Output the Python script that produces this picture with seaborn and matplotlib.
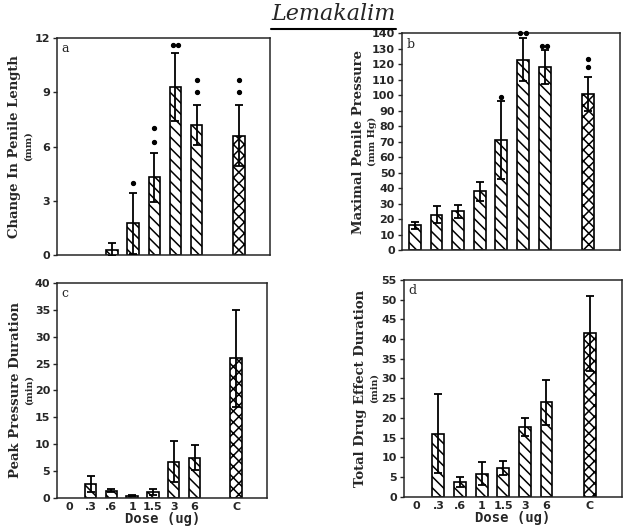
import numpy as np
import matplotlib
matplotlib.use("Agg")
import matplotlib.pyplot as plt
from matplotlib.lines import Line2D
import seaborn as sns

# dose groups (C = control slot, drawn after a gap)
doses = ["0", ".3", ".6", "1", "1.5", "3", "6", "C"]
positions = [0, 1, 2, 3, 4, 5, 6, 8]

# a: change in penile length (mm)
length_mean = [np.nan, np.nan, 0.3, 1.75, 4.3, 9.3, 7.2, 6.6]
length_err = [np.nan, np.nan, 0.35, 1.7, 1.35, 1.9, 1.1, 1.7]
# b: maximal penile pressure (mm Hg)
pressure_mean = [16, 23, 25, 38, 71, 123, 118, 101]
pressure_err = [2, 5.5, 4.5, 6, 25, 14, 11, 11]
# c: peak pressure duration (min)
peak_mean = [np.nan, 2.5, 1.3, 0.4, 1.1, 6.7, 7.5, 26]
peak_err = [np.nan, 1.5, 0.25, 0.1, 0.6, 3.8, 2.3, 9]
# d: total drug effect duration (min)
total_mean = [np.nan, 16, 3.7, 5.8, 7.3, 17.7, 24, 41.5]
total_err = [np.nan, 10, 1.3, 2.9, 1.7, 2.3, 5.7, 9.5]

# significance dots: (slot, y value)
length_sig = [(3, 4.0), (4, 6.25), (4, 7.0), (4.88, 11.6), (5.12, 11.6),
              (6, 9.0), (6, 9.7), (8, 9.0), (8, 9.7)]
pressure_sig = [(4, 99), (4.88, 140), (5.12, 140), (5.88, 132), (6.12, 132),
                (8, 118), (8, 123.5)]

sns.set_style("ticks")
plt.rcParams["hatch.linewidth"] = 1.1

fig = plt.figure(figsize=(6.29, 5.29), dpi=100)

panels = [
    ([0.091, 0.518, 0.339, 0.410], length_mean, length_err, length_sig,
     "a", np.arange(0, 13, 3), (0, 12), "Change In Penile Length", "(mm)", False),
    ([0.639, 0.527, 0.347, 0.410], pressure_mean, pressure_err, pressure_sig,
     "b", np.arange(0, 141, 10), (0, 140), "Maximal Penile Pressure", "(mm Hg)", False),
    ([0.091, 0.059, 0.334, 0.406], peak_mean, peak_err, [],
     "c", np.arange(0, 41, 5), (0, 40), "Peak Pressure Duration", "(min)", True),
    ([0.642, 0.061, 0.347, 0.410], total_mean, total_err, [],
     "d", np.arange(0, 56, 5), (0, 55), "Total Drug Effect Duration", "(min)", True),
]

for rect, means, errs, sig, letter, yticks, ylim, ylab, unit, show_x in panels:
    ax = fig.add_axes(rect)
    sns.barplot(x=positions, y=means, native_scale=True, width=0.55,
                color="white", edgecolor="black", linewidth=1.2, ax=ax)
    for patch, pos in zip(ax.patches, [p for p, m in zip(positions, means) if not np.isnan(m)]):
        patch.set_hatch("xxx" if pos == 8 else "\\\\\\")
        patch.set_edgecolor("black")
    ax.errorbar(positions, means, yerr=errs, fmt="none", ecolor="black",
                elinewidth=1.3, capsize=3, capthick=1.3, zorder=5)
    if sig:
        sx, sy = zip(*sig)
        ax.plot(sx, sy, "o", color="black", ms=2.8, clip_on=False, zorder=6)

    ax.set_xlim(-0.6, 9.5)
    ax.set_ylim(*ylim)
    ax.set_yticks(yticks)
    ax.set_yticklabels([str(t) for t in yticks], fontsize=8, fontweight="bold")
    for s in ax.spines.values():
        s.set_visible(True)
        s.set_linewidth(1.1)
    ax.tick_params(axis="y", length=3, width=1, pad=2)
    if show_x:
        ax.set_xticks(positions)
        ax.set_xticklabels(doses, fontsize=8, fontweight="bold")
        ax.tick_params(axis="x", length=0, pad=3)
        ax.set_xlabel("Dose (ug)", fontsize=10, fontweight="bold",
                      family="DejaVu Sans Mono", labelpad=0)
    else:
        ax.set_xticks([])
        ax.set_xlabel("")
    ax.set_ylabel("")
    ax.text(0.02, 0.98, letter, transform=ax.transAxes, ha="left", va="top",
            fontsize=9, family="DejaVu Serif")
    ax.text(-0.2, 0.5, ylab, transform=ax.transAxes, rotation=90, ha="center",
            va="center", fontsize=9.5, fontweight="bold", family="DejaVu Serif")
    ax.text(-0.135, 0.5, unit, transform=ax.transAxes, rotation=90, ha="center",
            va="center", fontsize=7, fontweight="bold", family="DejaVu Serif")

title = fig.text(0.53, 0.963, "Lemakalim", ha="center", va="baseline",
                 fontsize=16, style="italic", family="DejaVu Serif")
fig.canvas.draw()
bb = title.get_window_extent().transformed(fig.transFigure.inverted())
fig.add_artist(Line2D([bb.x0, bb.x1], [bb.y0 - 0.008, bb.y0 - 0.008],
                      color="black", lw=1.5, transform=fig.transFigure))

fig.savefig("out.png", dpi=100)
